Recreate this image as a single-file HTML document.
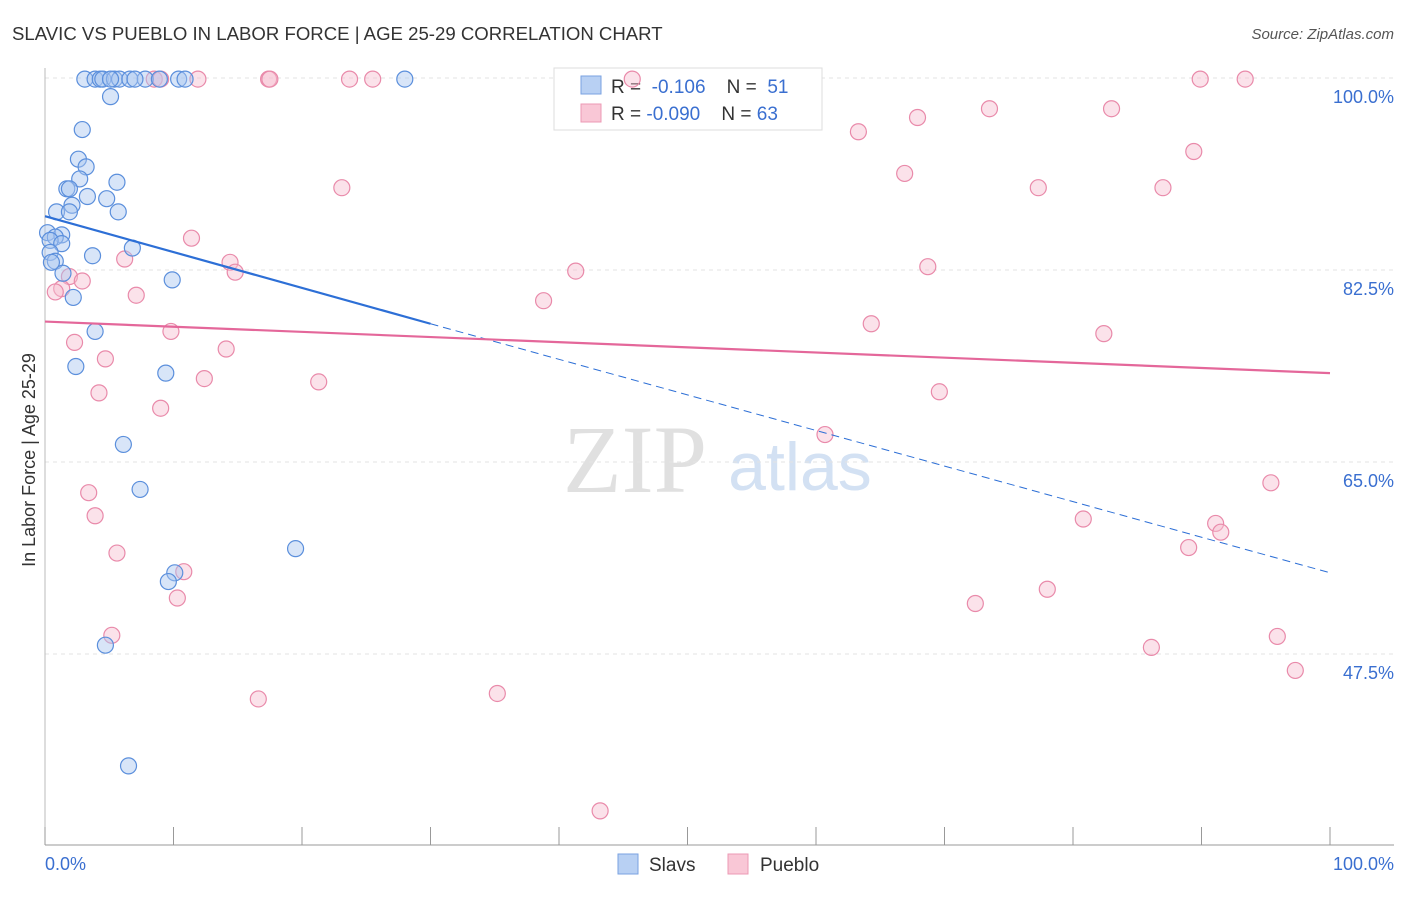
<!DOCTYPE html>
<html><head><meta charset="utf-8"><style>
body{margin:0;background:#fff;font-family:"Liberation Sans",sans-serif}
</style></head><body>
<svg id="c" width="1406" height="892" xmlns="http://www.w3.org/2000/svg">
<text x="12" y="40" font-size="18.6" fill="#333">SLAVIC VS PUEBLO IN LABOR FORCE | AGE 25-29 CORRELATION CHART</text>
<text x="1394" y="39" font-size="15" fill="#555" font-style="italic" text-anchor="end">Source: ZipAtlas.com</text>
<text x="635" y="492" font-size="96" fill="#e0e0e0" font-family="Liberation Serif,serif" text-anchor="middle">ZIP</text>
<text x="800" y="490" font-size="68" fill="#d3e1f3" text-anchor="middle">atlas</text>
<g id="grid"></g><g id="axes"></g>
<g>
<rect x="554" y="68" width="268" height="62" fill="#fff" stroke="#ddd"/>
<rect x="581" y="76" width="20" height="18" fill="#b8d0f3" stroke="#7aa2e0"/>
<rect x="581" y="104" width="20" height="18" fill="#f9c7d6" stroke="#ec9ab4"/>
<text x="611" y="93" font-size="19" fill="#333" xml:space="preserve">R =  <tspan fill="#3a6fd0">-0.106</tspan>    N =  <tspan fill="#3a6fd0">51</tspan></text>
<text x="611" y="120" font-size="19" fill="#333" xml:space="preserve">R = <tspan fill="#3a6fd0">-0.090</tspan>    N = <tspan fill="#3a6fd0">63</tspan></text>
</g>
<g id="marks"></g>
<text x="35" y="460" font-size="18" fill="#333" transform="rotate(-90 35 460)" text-anchor="middle">In Labor Force | Age 25-29</text>
<text x="45" y="870" font-size="18" fill="#3a6fd0">0.0%</text>
<text x="1394" y="870" font-size="18" fill="#3a6fd0" text-anchor="end">100.0%</text>
<g>
<rect x="618" y="854" width="20" height="20" fill="#b8d0f3" stroke="#7aa2e0"/>
<text x="649" y="871" font-size="19" fill="#333">Slavs</text>
<rect x="728" y="854" width="20" height="20" fill="#f9c7d6" stroke="#ec9ab4"/>
<text x="760" y="871" font-size="19" fill="#333">Pueblo</text>
</g>
</svg>
<script>
const yTicks=[100,82.5,65,47.5];
const yTickLabels=["100.0%","82.5%","65.0%","47.5%"];
const slavsX=[3.1,3.9,4.3,4.5,5.4,5.8,6.6,7.8,8.9,10.4,10.9,28,5.1,2.9,2.6,3.2,2.7,1.7,1.9,5.6,3.3,4.8,2.1,0.9,1.9,5.7,0.2,1.3,0.8,0.4,1.3,6.8,0.4,3.7,0.8,0.5,1.4,9.9,2.2,3.9,2.4,9.4,6.1,7.4,19.5,10.1,9.6,4.7,6.5,7,5.1];
const slavsY=[99.9,99.9,99.9,99.9,99.9,99.9,99.9,99.9,99.9,99.9,99.9,99.9,98.3,95.3,92.6,91.9,90.8,89.9,89.9,90.5,89.2,89,88.4,87.8,87.8,87.8,85.9,85.7,85.5,85.2,84.9,84.5,84.1,83.8,83.3,83.2,82.2,81.6,80,76.9,73.7,73.1,66.6,62.5,57.1,54.9,54.1,48.3,37.3,99.9,99.9];
const puebloX=[8.5,9,11.9,17.4,17.5,23.7,25.5,45.7,89.9,93.4,73.5,83,67.9,63.3,89.4,66.9,23.1,77.3,87,11.4,6.2,14.4,14.8,41.3,68.7,1.9,2.9,1.3,0.8,7.1,38.8,64.3,82.4,9.8,2.3,14.1,4.7,12.4,21.3,4.2,69.6,9,60.7,95.4,3.4,3.9,80.8,91.1,91.5,89,5.6,10.8,10.3,78,72.4,5.2,95.9,86.1,97.3,35.2,16.6,43.2];
const puebloY=[99.9,99.9,99.9,99.9,99.9,99.9,99.9,99.9,99.9,99.9,97.2,97.2,96.4,95.1,93.3,91.3,90,90,90,85.4,83.5,83.2,82.3,82.4,82.8,81.9,81.5,80.8,80.5,80.2,79.7,77.6,76.7,76.9,75.9,75.3,74.4,72.6,72.3,71.3,71.4,69.9,67.5,63.1,62.2,60.1,59.8,59.4,58.6,57.2,56.7,55,52.6,53.4,52.1,49.2,49.1,48.1,46,43.9,43.4,33.2];
const slavsTrend={x0:0,y0:87.4,x1:30,y1:77.6,x2:100,y2:54.9};
const puebloTrend={x0:0,y0:77.8,x1:100,y1:73.1};
const X=v=>45+v*12.85, Y=v=>78+(100-v)*10.971;
const NS="http://www.w3.org/2000/svg";
function mk(t,a,p){const e=document.createElementNS(NS,t);for(const k in a)e.setAttribute(k,a[k]);p.appendChild(e);return e;}
const grid=document.getElementById('grid'),axes=document.getElementById('axes'),marks=document.getElementById('marks');
yTicks.forEach((t,i)=>{
 const l=mk('line',{x1:45,x2:1394,y1:Y(t),y2:Y(t),stroke:'#e3e3e3','stroke-dasharray':'4,4'},grid);
 
 
 const tx=mk('text',{x:1394,y:Y(t)+25,'font-size':18,fill:'#3a6fd0','text-anchor':'end'},grid);tx.textContent=yTickLabels[i];
 
 
});
const xa=mk('line',{x1:45,x2:1394,y1:845,y2:845,stroke:'#999'},axes);


const ya=mk('line',{x1:45,x2:45,y1:68,y2:845,stroke:'#bbb'},axes);


for(let i=0;i<=10;i++){const t=mk('line',{x1:X(i*10),x2:X(i*10),y1:827,y2:845,stroke:'#999'},axes);
 
 }
function pts(xs,ys,fill,stroke,name){xs.forEach((x,i)=>{const c=mk('circle',{cx:X(x),cy:Y(ys[i]),r:8,fill:fill,'fill-opacity':0.45,stroke:stroke,'stroke-width':1.2},marks);
 
 });}
pts(puebloX,puebloY,'#f7bfd0','#e98aaa','pueblo-point');
pts(slavsX,slavsY,'#a9c6f0','#5b8fdc','slavs-point');
let s=slavsTrend;
const l1=mk('line',{x1:X(s.x0),y1:Y(s.y0),x2:X(s.x1),y2:Y(s.y1),stroke:'#2d6fd6','stroke-width':2.2},marks);


const l2=mk('line',{x1:X(s.x1),y1:Y(s.y1),x2:X(s.x2),y2:Y(s.y2),stroke:'#2d6fd6','stroke-width':1,'stroke-dasharray':'8,5'},marks);


let p=puebloTrend;
const l3=mk('line',{x1:X(p.x0),y1:Y(p.y0),x2:X(p.x1),y2:Y(p.y1),stroke:'#e4679a','stroke-width':2.2},marks);


</script>
</body></html>
